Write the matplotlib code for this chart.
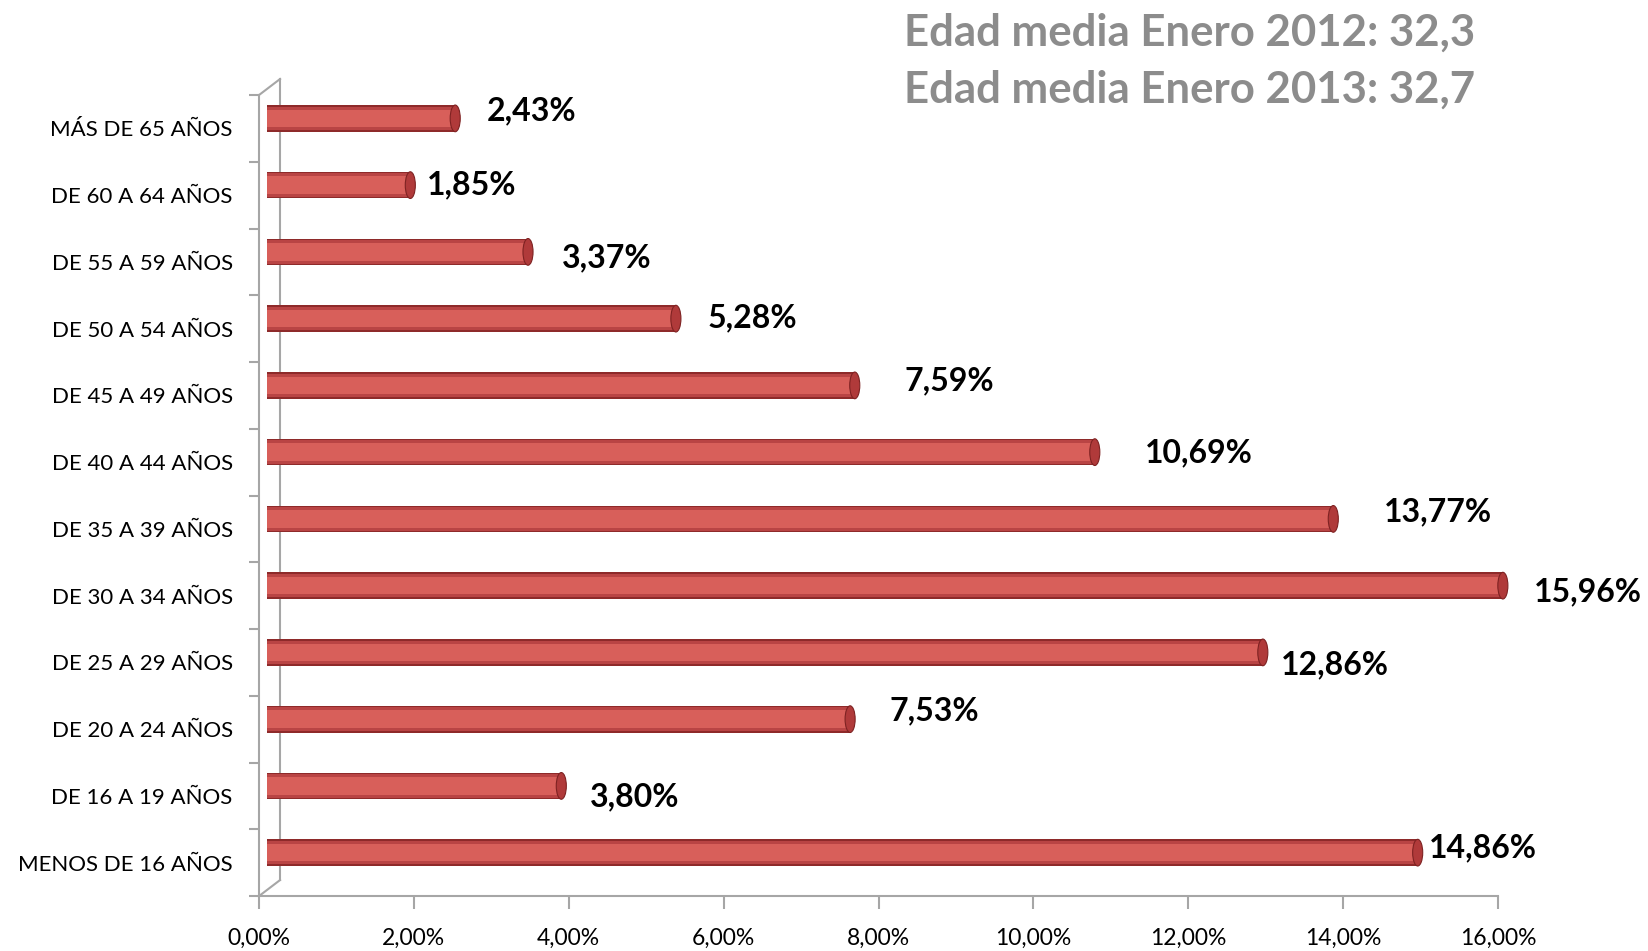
import numpy as np
import matplotlib.pyplot as plt
from matplotlib.patches import Ellipse
from matplotlib.transforms import offset_copy
from matplotlib.ticker import FuncFormatter, MultipleLocator

plt.rcParams['font.family'] = ['Lato', 'DejaVu Sans']

# top to bottom
categories = ['MÁS DE 65 AÑOS', 'DE 60 A 64 AÑOS', 'DE 55 A 59 AÑOS', 'DE 50 A 54 AÑOS',
              'DE 45 A 49 AÑOS', 'DE 40 A 44 AÑOS', 'DE 35 A 39 AÑOS', 'DE 30 A 34 AÑOS',
              'DE 25 A 29 AÑOS', 'DE 20 A 24 AÑOS', 'DE 16 A 19 AÑOS', 'MENOS DE 16 AÑOS']
values = [2.43, 1.85, 3.37, 5.28, 7.59, 10.69, 13.77, 15.96, 12.86, 7.53, 3.80, 14.86]
title_lines = ['Edad media Enero 2012: 32,3', 'Edad media Enero 2013: 32,7']

# label offsets (pixels) from bar end, as placed in the original
label_offsets = [(84, 18), (69, 10), (87, 4), (84, 11), (103, 15), (112, 9),
                 (113, 17), (93, 4), (80, -2), (92, 18), (81, -1), (73, 15)]

fig = plt.figure(figsize=(16.49, 9.51), dpi=100)
ax = fig.add_axes([0.1571, 0.0578, 0.7513, 0.8423])

y = np.arange(len(categories))
axis_gray = '#A6A6A6'
h = 0.4

# bars shifted a bit for the 3D depth look
bar_tr = offset_copy(ax.transData, fig=fig, x=8, y=10, units='dots')
for frac, col in [(1.0, '#8E2A2A'), (0.88, '#B94444'), (0.66, '#D85F5A')]:
    ax.barh(y, values, height=h * frac, color=col, transform=bar_tr, zorder=3, clip_on=False)
for yi, v in zip(y, values):
    ax.add_patch(Ellipse((v, yi), 0.13, h, facecolor='#B03A3A', edgecolor='#7E2222',
                         lw=0.8, transform=bar_tr, zorder=4, clip_on=False))

for yi, v, txt_off in zip(y, values, label_offsets):
    ax.annotate(f'{v:.2f}%'.replace('.', ','), xy=(v, yi), xytext=txt_off,
                textcoords='offset pixels', ha='center', va='center',
                fontsize=23, fontweight='bold', color='black', annotation_clip=False)

ax.set_xlim(0, 16)
ax.set_ylim(len(categories) - 0.5, -0.5)
ax.xaxis.set_major_locator(MultipleLocator(2))
ax.xaxis.set_major_formatter(FuncFormatter(lambda x, p: f'{x:.2f}%'.replace('.', ',')))
ax.set_yticks(y)
ax.set_yticklabels(categories)
ax.set_yticks(np.arange(len(categories) + 1) - 0.5, minor=True)

for s in ['top', 'right']:
    ax.spines[s].set_visible(False)
for s in ['left', 'bottom']:
    ax.spines[s].set_color(axis_gray)
    ax.spines[s].set_linewidth(1.5)
ax.tick_params(axis='x', colors=axis_gray, length=9, width=1.5, direction='out',
               labelcolor='black', labelsize=16.5, pad=14)
ax.tick_params(axis='y', which='major', length=0, labelsize=16, pad=19)
ax.tick_params(axis='y', which='minor', length=7, width=1.5, colors=axis_gray)

# back wall of the 3D frame
wall_tr = offset_copy(ax.transAxes, fig=fig, x=21, y=16, units='dots')
ax.plot([0, 0], [0, 1], color=axis_gray, lw=1.5, transform=wall_tr, clip_on=False, zorder=1)
for yy in (0, 1):
    x0, y0 = ax.transAxes.transform((0, yy))
    ax.plot([x0, x0 + 21], [y0, y0 + 16], color=axis_gray, lw=1.5, transform=None,
            clip_on=False, zorder=1)

for i, line in enumerate(title_lines):
    fig.text(1475 / 1649, 1 - (33 + 57 * i) / 951, line, ha='right', va='center',
             fontsize=31.5, fontweight='bold', color='#8C8C8C')

fig.savefig('out.png', dpi=100)
